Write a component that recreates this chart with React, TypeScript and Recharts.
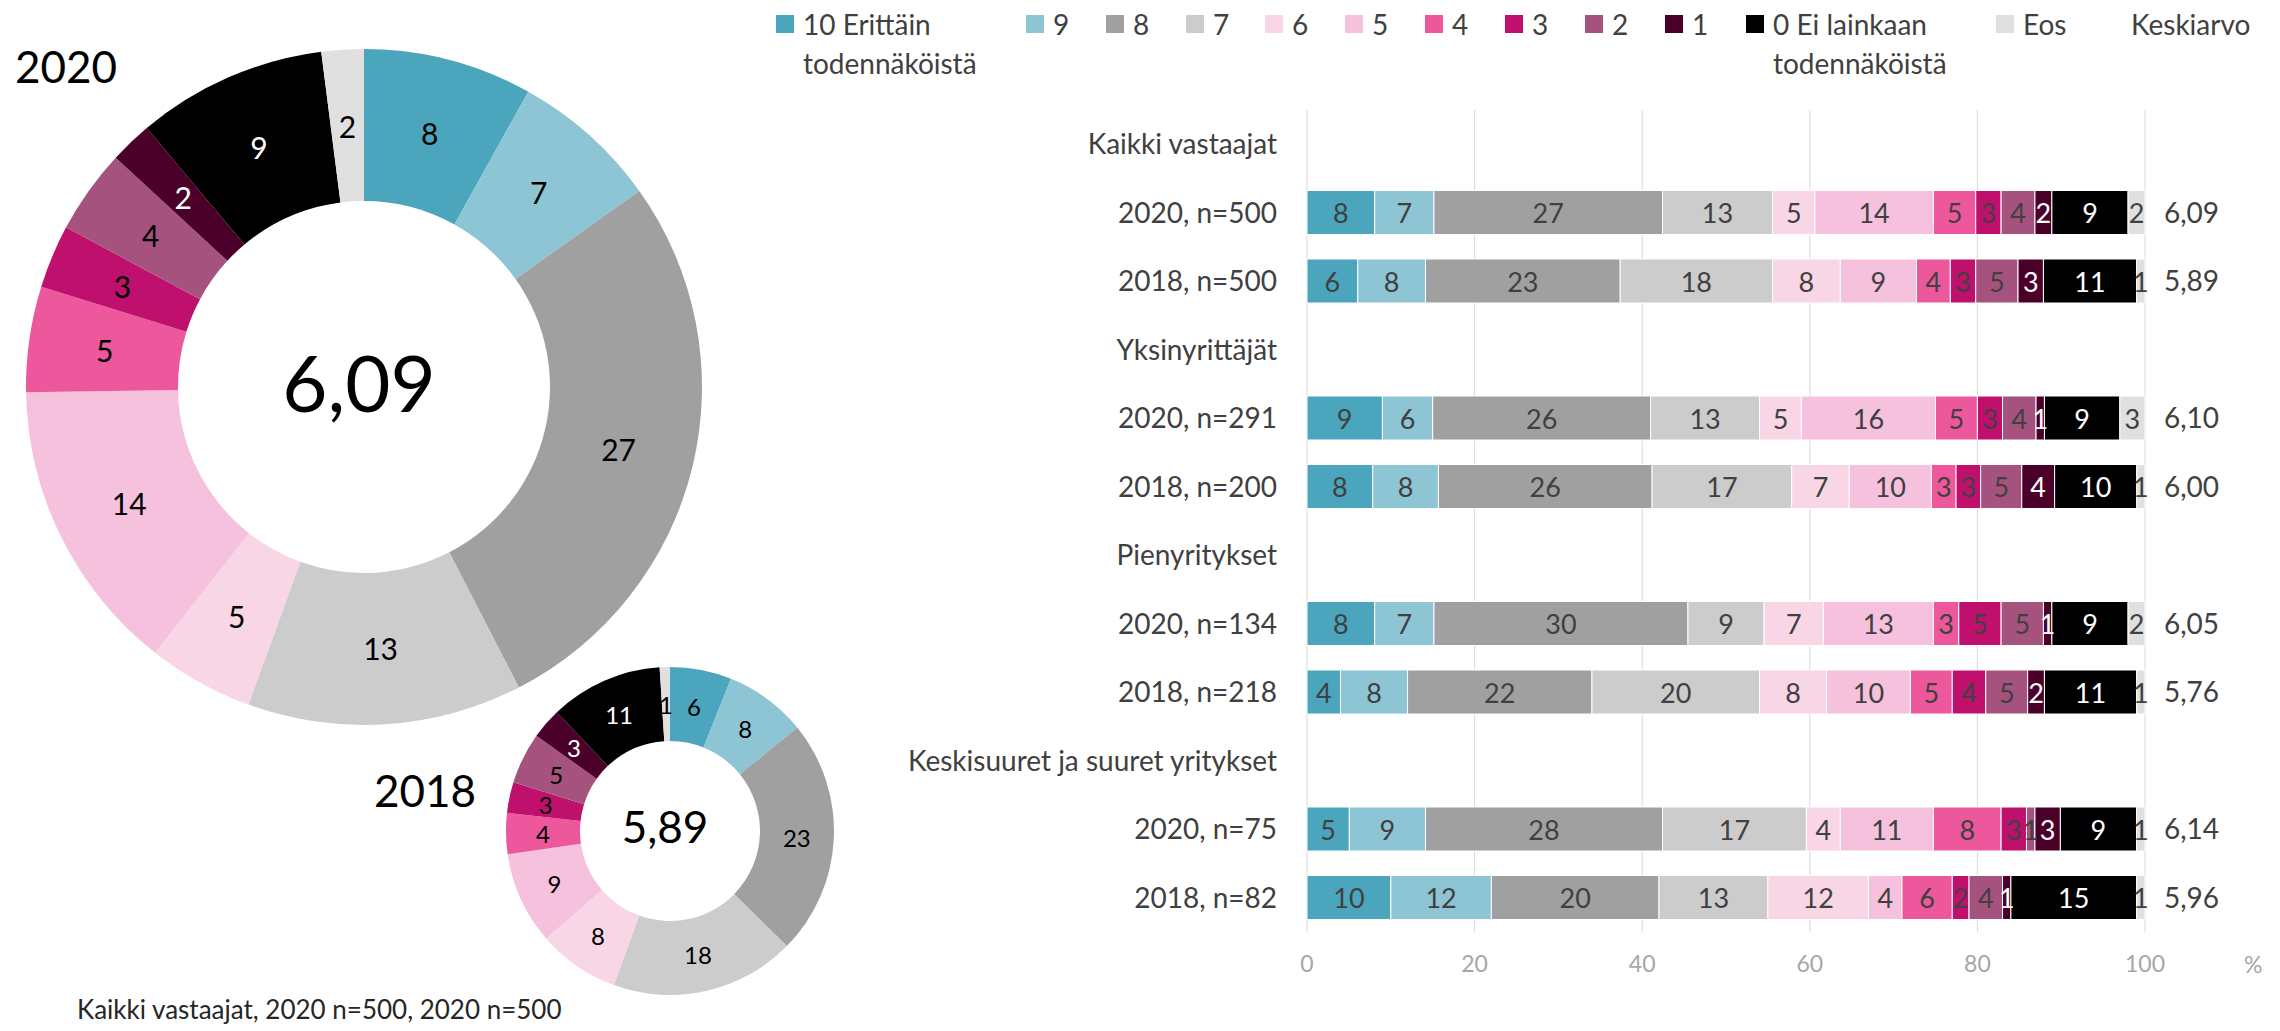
import React from 'react';
import { BarChart, Bar, XAxis, YAxis, CartesianGrid, LabelList, PieChart, Pie, Cell } from 'recharts';

const FONT = 'Lato, "Open Sans", sans-serif';
const TEXT = '#404040';

// answer scale, from "10 Erittäin todennäköistä" down to "Eos"
const scaleKeys = ['s10', 's9', 's8', 's7', 's6', 's5', 's4', 's3', 's2', 's1', 's0', 'eos'];
const scaleNames = ['10 Erittäin\ntodennäköistä', '9', '8', '7', '6', '5', '4', '3', '2', '1', '0 Ei lainkaan\ntodennäköistä', 'Eos'];
const scaleColors = ['#4BA6BD', '#8DC5D4', '#A0A0A0', '#CCCCCC', '#F8D6E6', '#F6C1DC', '#EC589B', '#C0106E', '#A6527F', '#4B0029', '#000000', '#E0E0E0'];

const rowLabels = [
  'Kaikki vastaajat', '2020, n=500', '2018, n=500',
  'Yksinyrittäjät', '2020, n=291', '2018, n=200',
  'Pienyritykset', '2020, n=134', '2018, n=218',
  'Keskisuuret ja suuret yritykset', '2020, n=75', '2018, n=82',
];
const meanLabels = ['', '6,09', '5,89', '', '6,10', '6,00', '', '6,05', '5,76', '', '6,14', '5,96'];

const all2020 = [8, 7, 27, 13, 5, 14, 5, 3, 4, 2, 9, 2];
const all2018 = [6, 8, 23, 18, 8, 9, 4, 3, 5, 3, 11, 1];
const solo2020 = [9, 6, 26, 13, 5, 16, 5, 3, 4, 1, 9, 3];
const solo2018 = [8, 8, 26, 17, 7, 10, 3, 3, 5, 4, 10, 1];
const small2020 = [8, 7, 30, 9, 7, 13, 3, 5, 5, 1, 9, 2];
const small2018 = [4, 8, 22, 20, 8, 10, 5, 4, 5, 2, 11, 1];
const large2020 = [5, 9, 28, 17, 4, 11, 8, 3, 1, 3, 9, 1];
const large2018 = [10, 12, 20, 13, 12, 4, 6, 2, 4, 1, 15, 1];

const rowValues: (number[] | null)[] = [
  null, all2020, all2018,
  null, solo2020, solo2018,
  null, small2020, small2018,
  null, large2020, large2018,
];

const xTicks = [0, 0.2, 0.4, 0.6, 0.8, 1];

const barData = rowLabels.map((name, i) => {
  const row: any = { name, mean: meanLabels[i] };
  const vals = rowValues[i];
  if (vals) scaleKeys.forEach((k, j) => { row[k] = vals[j]; });
  return row;
});

const pie2020 = scaleKeys.map((k, i) => ({ name: k, value: all2020[i] }));
const pie2018 = scaleKeys.map((k, i) => ({ name: k, value: all2018[i] }));

const isDark = (i: number) => i === 9 || i === 10;

const pieLabel = (size: number) => (p: any) => {
  const RAD = Math.PI / 180;
  const r = (Number(p.innerRadius) + Number(p.outerRadius)) / 2;
  const x = p.cx + r * Math.cos(-p.midAngle * RAD);
  const y = p.cy + r * Math.sin(-p.midAngle * RAD);
  return (
    <text x={x} y={y} fill={isDark(p.index) ? '#fff' : '#000'} fontSize={size} fontFamily={FONT}
      textAnchor="middle" dominantBaseline="central">
      {p.value}
    </text>
  );
};

const barLabel = (seriesIndex: number) => (p: any) => {
  if (p.value == null || p.value === 0) return null;
  const vb = p.viewBox || p;
  const x = Number(vb.x) + Number(vb.width) / 2;
  const y = Number(vb.y) + Number(vb.height) / 2;
  return (
    <text x={x} y={y} fill={isDark(seriesIndex) ? '#fff' : TEXT} fontSize={27} fontFamily={FONT}
      textAnchor="middle" dominantBaseline="central">
      {p.value}
    </text>
  );
};

const legendX = [776, 1026, 1106, 1186, 1265, 1345, 1425, 1505, 1585, 1665, 1746, 1996];

const centerText = (x: number, y: number, size: number): React.CSSProperties => ({
  position: 'absolute', left: x, top: y, transform: 'translate(-50%, -50%)',
  fontSize: size, lineHeight: 1, color: '#000', whiteSpace: 'nowrap',
});

const App = () => {
  return (
    <div style={{ position: 'absolute', left: 0, top: 0, width: 2280, height: 1031, background: '#fff', fontFamily: FONT, overflow: 'hidden' }}>
      <PieChart width={900} height={1031} style={{ position: 'absolute', left: 0, top: 0 }}>
        <Pie data={pie2020} dataKey="value" cx={359} cy={382} innerRadius={186} outerRadius={338}
          startAngle={90} endAngle={-270} stroke="none" label={pieLabel(30)} labelLine={false} isAnimationActive={false}>
          {pie2020.map((e, i) => <Cell key={e.name} fill={scaleColors[i]} />)}
        </Pie>
        <Pie data={pie2018} dataKey="value" cx={665} cy={826} innerRadius={90} outerRadius={164}
          startAngle={90} endAngle={-270} stroke="none" label={pieLabel(24)} labelLine={false} isAnimationActive={false}>
          {pie2018.map((e, i) => <Cell key={e.name} fill={scaleColors[i]} />)}
        </Pie>
      </PieChart>

      <div style={centerText(359, 382, 78)}>6,09</div>
      <div style={centerText(665, 826, 44)}>5,89</div>

      <div style={{ position: 'absolute', left: 15, top: 42, fontSize: 44, lineHeight: '48px', color: '#000' }}>2020</div>
      <div style={{ position: 'absolute', left: 374, top: 766, fontSize: 44, lineHeight: '48px', color: '#000' }}>2018</div>
      <div style={{ position: 'absolute', left: 77, top: 993, fontSize: 26, lineHeight: '32px', color: '#262626', whiteSpace: 'nowrap' }}>
        Kaikki vastaajat, 2020 n=500, 2020 n=500
      </div>

      <BarChart width={2280} height={1031} data={barData} layout="vertical" stackOffset="expand"
        margin={{ top: 110, right: 0, bottom: 39, left: 0 }} barSize={44}
        style={{ position: 'absolute', left: 0, top: 0 }}>
        <CartesianGrid horizontal={false} stroke="#D9D9D9" />
        <XAxis type="number" domain={[0, 1]} ticks={xTicks} tickFormatter={(v: number) => String(Math.round(v * 100))}
          axisLine={false} tickLine={false} tickSize={0} tickMargin={24} height={60}
          tick={{ fill: '#A6A6A6', fontSize: 23, fontFamily: FONT }} />
        <YAxis type="category" dataKey="name" width={1307} interval={0} axisLine={false} tickLine={false}
          tickSize={0} tickMargin={30} tick={{ fill: TEXT, fontSize: 28, fontFamily: FONT }} />
        <YAxis yAxisId="mean" orientation="right" type="category" dataKey="mean" width={135} interval={0}
          axisLine={false} tickLine={false} tickSize={0} tickMargin={19}
          tick={{ fill: TEXT, fontSize: 28, fontFamily: FONT, textAnchor: 'start' }} />
        {scaleKeys.map((k, i) => (
          <Bar key={k} dataKey={k} stackId="a" fill={scaleColors[i]} stroke="#fff" strokeWidth={1} isAnimationActive={false}>
            <LabelList dataKey={k} content={barLabel(i)} />
          </Bar>
        ))}
      </BarChart>

      <div style={{ position: 'absolute', left: 2244, top: 950, fontSize: 23, lineHeight: '28px', color: '#A6A6A6' }}>%</div>

      {scaleNames.map((n, i) => (
        <div key={n} style={{ position: 'absolute', left: legendX[i], top: 5 }}>
          <div style={{ position: 'absolute', left: 0, top: 10, width: 18, height: 18, background: scaleColors[i] }} />
          <div style={{ position: 'absolute', left: 27, top: 0, fontSize: 28, lineHeight: '39px', color: TEXT, whiteSpace: 'pre' }}>{n}</div>
        </div>
      ))}
      <div style={{ position: 'absolute', left: 2131, top: 5, fontSize: 28, lineHeight: '39px', color: TEXT }}>Keskiarvo</div>
    </div>
  );
};

export default App;
